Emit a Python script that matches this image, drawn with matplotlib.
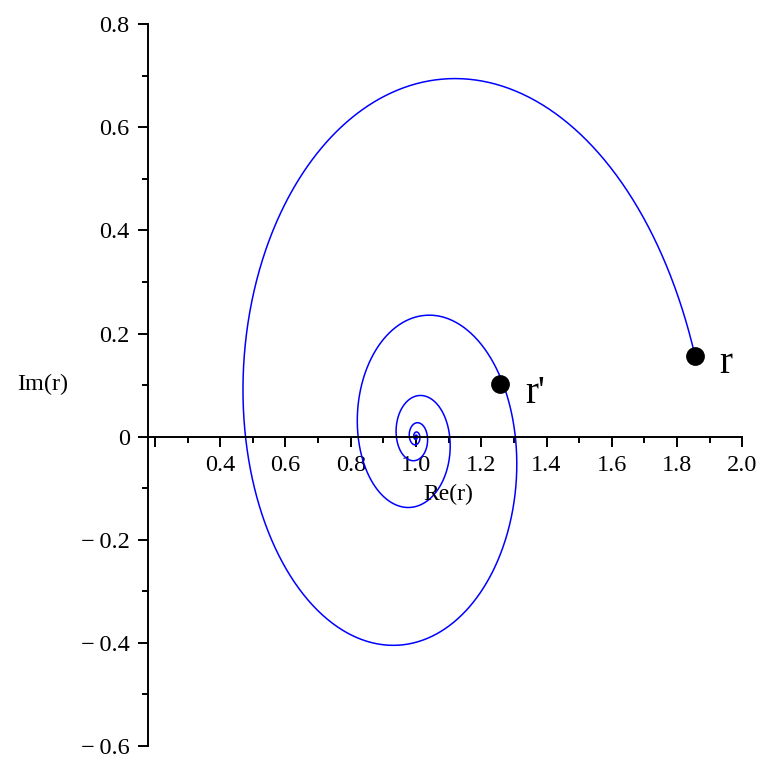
import numpy as np
import matplotlib
matplotlib.use("Agg")
import matplotlib.pyplot as plt

# ---- data ----
spiral_center = (1.0, 0.0)       # point the spiral winds into
spiral_start = (1.855, 0.157)    # the point r
spiral_decay = 0.172             # radial decay per radian (log spiral)
spiral_turns = 6.0               # number of turns drawn
r_point = (1.855, 0.157)
rprime_point = (1.257, 0.1016)
x_ticks_major = [0.2, 0.4, 0.6, 0.8, 1.0, 1.2, 1.4, 1.6, 1.8, 2.0]
x_tick_labels = ["", "0.4", "0.6", "0.8", "1.0", "1.2", "1.4", "1.6", "1.8", "2.0"]
y_ticks_major = [-0.6, -0.4, -0.2, 0.0, 0.2, 0.4, 0.6, 0.8]
y_tick_labels = ["\u2212\u20090.6", "\u2212\u20090.4", "\u2212\u20090.2", "0", "0.2", "0.4", "0.6", "0.8"]
x_limits = (0.18, 2.0)
y_limits = (-0.6, 0.8)

plt.rcParams['font.family'] = ['Liberation Serif', 'DejaVu Serif']

fig = plt.figure(figsize=(7.71, 7.71), dpi=100)
ax = fig.add_axes([0.1925, 0.0324, 0.9628 - 0.1925, 0.9685 - 0.0324])

# spiral curve (logarithmic spiral from r into the centre)
cz = complex(*spiral_center)
z0 = complex(*spiral_start) - cz
t = np.linspace(0, 2 * np.pi * spiral_turns, 4000)
z = cz + z0 * np.exp((-spiral_decay + 1j) * t)
ax.plot(z.real, z.imag, color='#0000ff', lw=1.1, solid_capstyle='butt')

ax.plot([r_point[0]], [r_point[1]], 'o', color='black', ms=12.5)
ax.plot([rprime_point[0]], [rprime_point[1]], 'o', color='black', ms=12.5)
ax.text(1.928, 0.1235, "r", fontsize=28, ha='left', va='baseline')
ax.text(1.336, 0.0658, "r'", fontsize=28, ha='left', va='baseline')

ax.set_xlim(*x_limits)
ax.set_ylim(*y_limits)

for s in ['top', 'right']:
    ax.spines[s].set_visible(False)
ax.spines['bottom'].set_position(('data', 0))
ax.spines['left'].set_linewidth(1.4)
ax.spines['bottom'].set_linewidth(1.4)

ax.set_xticks(x_ticks_major)
ax.set_xticklabels(x_tick_labels)
ax.set_xticks(np.arange(0.3, 2.0, 0.2), minor=True)
ax.set_yticks(y_ticks_major)
ax.set_yticklabels(y_tick_labels)
ax.set_yticks(np.arange(-0.5, 0.8, 0.2), minor=True)

ax.tick_params(axis='both', which='major', direction='out', length=7.5, width=1.4,
               labelsize=17.5)
ax.tick_params(axis='both', which='minor', direction='out', length=4, width=1.4)
ax.tick_params(axis='x', which='major', pad=6)
ax.tick_params(axis='y', which='major', pad=6)

fig.text(448 / 771, 1 - 494 / 771, "Re(r)", fontsize=17, ha='center', va='center')
fig.text(43 / 771, 1 - 384 / 771, "Im(r)", fontsize=17.5, ha='center', va='center')

fig.savefig("out.png", dpi=100)
